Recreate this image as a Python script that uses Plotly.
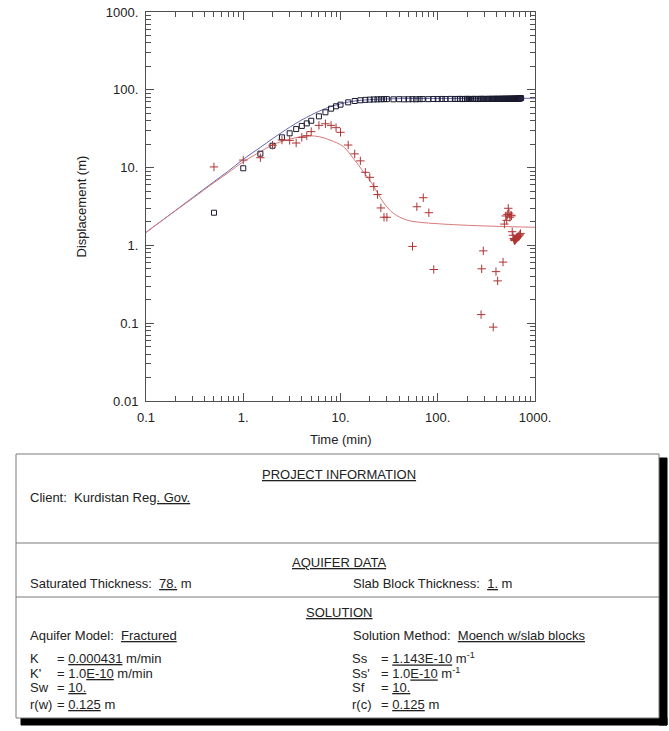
import plotly.graph_objects as go

# ---------------- data ----------------
obs_time = [0.5, 1, 1.5, 2, 2.5, 3, 3.5, 4, 4.5, 5, 6, 7, 8, 9, 10, 12, 14, 16, 18, 20,
            22, 24, 26, 28, 30, 35, 40, 45, 50, 55, 60, 65, 70, 80, 90, 100, 110, 120, 135, 150,
            160, 170, 180, 190, 200, 210, 220, 230, 240, 250, 260, 270, 280, 290, 300,
            310, 320, 330, 340, 350, 360, 370, 380, 390, 400, 410, 420, 430, 440, 450,
            460, 470, 480, 490, 500, 510, 520, 530, 540, 550, 560, 570, 580, 590, 600,
            610, 620, 630, 640, 650, 660, 670, 680, 690, 700, 710, 720]
obs_disp = [2.63, 9.8, 15.1, 19.1, 24.5, 27.6, 31.3, 34.3, 37.0, 40.0, 45.6, 51.4, 57.2, 61.4, 64.4, 69.0, 71.8, 73.3, 74.2, 74.8,
            75.2, 75.4, 75.6, 75.8, 75.9, 75.5, 75.7, 75.4, 75.6, 75.8, 75.5, 75.9, 76.0, 75.8, 76.2, 76.0, 76.3, 76.1, 76.4, 76.2,
            76.2, 76.5, 76.0, 76.3, 76.6, 76.1, 76.4, 76.2, 76.5, 76.3, 76.0, 76.4, 76.6, 76.2, 76.5,
            76.3, 76.1, 76.4, 76.6, 76.3, 76.5, 76.2, 76.4, 76.7, 76.3, 76.5, 76.6, 76.2, 76.4, 76.7,
            76.5, 76.3, 76.6, 76.8, 76.4, 76.6, 76.5, 76.7, 76.4, 76.6, 76.8, 76.5, 76.7, 76.6, 76.9,
            76.7, 76.5, 76.8, 76.9, 76.6, 77.0, 76.8, 77.1, 77.3, 77.6, 77.9, 78.2]

deriv_time = [0.5, 1, 1.5, 2, 2.5, 3, 3.5, 4, 4.5, 5,
              6, 7, 8, 9, 10, 12, 14, 16, 18, 20,
              22, 24, 26, 28, 30, 55, 61, 71, 81, 91,
              279, 283, 294, 372, 397, 413, 469, 484, 500, 512,
              520, 531, 540, 552, 565, 574, 583, 592, 603, 610,
              616, 622, 628, 635, 642, 650, 660, 670, 684, 697,
              710]
deriv_val = [10.2, 12.5, 13.4, 19.4, 22.6, 22.4, 20.7, 24.5, 25.7, 29.0,
             34.9, 36.6, 34.9, 32.6, 28.4, 19.5, 15.0, 12.2, 8.7, 7.5,
             5.7, 4.5, 3.03, 2.3, 2.3, 0.97, 3.14, 4.1, 2.63, 0.49,
             0.129, 0.5, 0.85, 0.089, 0.46, 0.35, 0.61, 1.88, 2.39, 2.1,
             2.5, 3.0, 2.6, 2.3, 2.45, 2.4, 1.5, 1.35, 1.23, 1.18,
             1.15, 1.2, 1.17, 1.2, 1.22, 1.24, 1.27, 1.3, 1.33, 1.37,
             1.42]

model_time = [0.1, 0.2, 0.3, 0.5, 0.7, 1, 1.5, 2, 3, 4, 5, 6, 7, 8, 10, 12, 15, 20, 30, 50, 100, 300, 1000]
model_disp = [1.47, 2.8, 4.1, 6.6, 9.0, 12.8, 18.2, 23.5, 33.0, 41.0, 47.5, 53.0, 57.5, 61.0, 66.0, 69.5, 72.5, 74.8, 76.4, 77.2, 77.5, 77.7, 77.8]

deriv_model_time = [0.1, 0.2, 0.3, 0.5, 0.7, 1, 1.5, 2, 3, 4, 4.85, 6, 7.8, 10.7, 13.5, 17.2, 21.6, 27.3, 34.9, 47.9, 65.6, 100, 169, 400, 1000]
deriv_model_val = [1.47, 2.78, 4.0, 6.4, 8.6, 11.9, 16.0, 19.6, 23.2, 25.0, 25.6, 25.0, 22.6, 18.6, 13.2, 8.85, 5.97, 3.65, 2.59, 2.12, 1.98, 1.9, 1.83, 1.76, 1.71]

x_tick_vals = [0.1, 1, 10, 100, 1000]
x_tick_text = ["0.1", "1.", "10.", "100.", "1000."]
y_tick_vals = [0.01, 0.1, 1, 10, 100, 1000]
y_tick_text = ["0.01", "0.1", "1.", "10.", "100.", "1000."]

# ---------------- layout geometry (pixels) ----------------
W, H = 669, 731
PL, PR, PT, PB = 146, 535, 12, 401
PW, PH = PR - PL, PB - PT


def xp(px):
    return (px - PL) / PW


def yp(py):
    return (PB - py) / PH


FONT = "Liberation Sans, Arial, sans-serif"
TXT = "#222222"
AX = "#505050"

fig = go.Figure()

fig.add_trace(go.Scatter(x=model_time, y=model_disp, mode="lines",
                         line=dict(color="#6666b0", width=1, shape="spline"),
                         hoverinfo="skip", showlegend=False))
fig.add_trace(go.Scatter(x=deriv_model_time, y=deriv_model_val, mode="lines",
                         line=dict(color="#da7a7a", width=1, shape="spline"),
                         hoverinfo="skip", showlegend=False))
fig.add_trace(go.Scatter(x=obs_time, y=obs_disp, mode="markers",
                         marker=dict(symbol="square-open", size=5, color="#1a1a30",
                                     line=dict(width=1, color="#1a1a30")),
                         showlegend=False))
fig.add_trace(go.Scatter(x=deriv_time, y=deriv_val, mode="markers",
                         marker=dict(symbol="cross-thin", size=6, color="#b03434",
                                     line=dict(width=1, color="#b03434")),
                         showlegend=False))

minor_x = [m * 10 ** e for e in range(-1, 3) for m in range(2, 10)]
minor_y = [m * 10 ** e for e in range(-2, 3) for m in range(2, 10)]

axis_common = dict(type="log", showgrid=False, zeroline=False, showline=True,
                   linecolor=AX, linewidth=1, mirror="ticks", ticks="inside",
                   ticklen=8, tickcolor=AX, tickwidth=1, automargin=False,
                   tickfont=dict(family=FONT, size=13, color=TXT),
                   tickmode="array")

fig.update_xaxes(range=[-1, 3], tickvals=x_tick_vals, ticktext=x_tick_text,
                 minor=dict(tickmode="array", tickvals=minor_x, ticks="inside",
                            ticklen=5, tickcolor=AX, tickwidth=1, showgrid=False),
                 ticklabelstandoff=4, **axis_common)
fig.update_yaxes(range=[-2, 3], tickvals=y_tick_vals, ticktext=y_tick_text,
                 minor=dict(tickmode="array", tickvals=minor_y, ticks="inside",
                            ticklen=5, tickcolor=AX, tickwidth=1, showgrid=False),
                 ticklabelstandoff=4, **axis_common)

shapes = []
annotations = []

# axis titles
annotations.append(dict(x=0.5, y=yp(439), xref="paper", yref="paper", text="Time (min)",
                        showarrow=False, xanchor="center", yanchor="middle",
                        font=dict(family=FONT, size=13, color=TXT)))
annotations.append(dict(x=xp(81), y=0.5, xref="paper", yref="paper", text="Displacement (m)",
                        showarrow=False, textangle=-90, xanchor="center", yanchor="middle",
                        font=dict(family=FONT, size=13, color=TXT)))

# info box: shadow strips (right and bottom), box, dividers
shapes.append(dict(type="rect", xref="paper", yref="paper",
                   x0=xp(659), x1=xp(667), y0=yp(458), y1=yp(725),
                   fillcolor="#000000", opacity=1, line=dict(width=1, color="#000000"),
                   layer="above"))
shapes.append(dict(type="rect", xref="paper", yref="paper",
                   x0=xp(21), x1=xp(667), y0=yp(718), y1=yp(725),
                   fillcolor="#000000", opacity=1, line=dict(width=1, color="#000000"),
                   layer="above"))
shapes.append(dict(type="rect", xref="paper", yref="paper",
                   x0=xp(16), x1=xp(659), y0=yp(454), y1=yp(718),
                   fillcolor="white", line=dict(width=1, color="#7a7a7a"), layer="above"))
for ly in (543, 597):
    shapes.append(dict(type="line", xref="paper", yref="paper",
                       x0=xp(16), x1=xp(659), y0=yp(ly), y1=yp(ly),
                       line=dict(width=1, color="#7a7a7a"), layer="above"))

NB = "\u00a0"


def text(px, py, s, anchor="left"):
    annotations.append(dict(x=xp(px), y=yp(py), xref="paper", yref="paper", text=s,
                            showarrow=False, xanchor=anchor, yanchor="middle",
                            font=dict(family=FONT, size=13, color=TXT)))


text(339, 474, "<u>PROJECT INFORMATION</u>", "center")
text(28, 498, "Client:" + NB + NB + "Kurdistan Re<u>g. Gov.</u>")
text(339, 562, "<u>AQUIFER DATA</u>", "center")
text(28, 583, "Saturated Thickness:" + NB + NB + "<u>78.</u> m")
text(351, 583, "Slab Block Thickness:" + NB + NB + "<u>1.</u> m")
text(339, 612, "<u>SOLUTION</u>", "center")
text(28, 635, "Aquifer Model:" + NB + NB + "<u>Fractured</u>")
text(351, 635, "Solution Method:" + NB + NB + "<u>Moench w/slab blocks</u>")

left_labels = ["K", "K'", "Sw", "r(w)"]
left_values = ["= <u>0.000431</u> m/min", "= 1.0<u>E-10</u> m/min", "= <u>10.</u>", "= <u>0.125</u> m"]
right_labels = ["Ss", "Ss'", "Sf", "r(c)"]
right_values = ["= <u>1.143E-10</u> m<sup>-1</sup>", "= 1.0<u>E-10</u> m<sup>-1</sup>",
                "= <u>10.</u>", "= <u>0.125</u> m"]
rows_y = [658, 673, 688, 704]
for i, ry in enumerate(rows_y):
    text(28, ry, left_labels[i])
    text(55, ry, left_values[i])
    text(350, ry, right_labels[i])
    text(379, ry, right_values[i])

fig.update_layout(width=W, height=H,
                  margin=dict(l=PL, r=W - PR, t=PT, b=H - PB, pad=0, autoexpand=False),
                  paper_bgcolor="white", plot_bgcolor="white",
                  shapes=shapes, annotations=annotations,
                  font=dict(family=FONT, size=13, color=TXT),
                  showlegend=False)

fig.write_html("out.html", config={"displayModeBar": False},
               post_script="document.body.style.margin='0px';document.body.style.padding='0px';"
                           "document.documentElement.style.margin='0px';")
